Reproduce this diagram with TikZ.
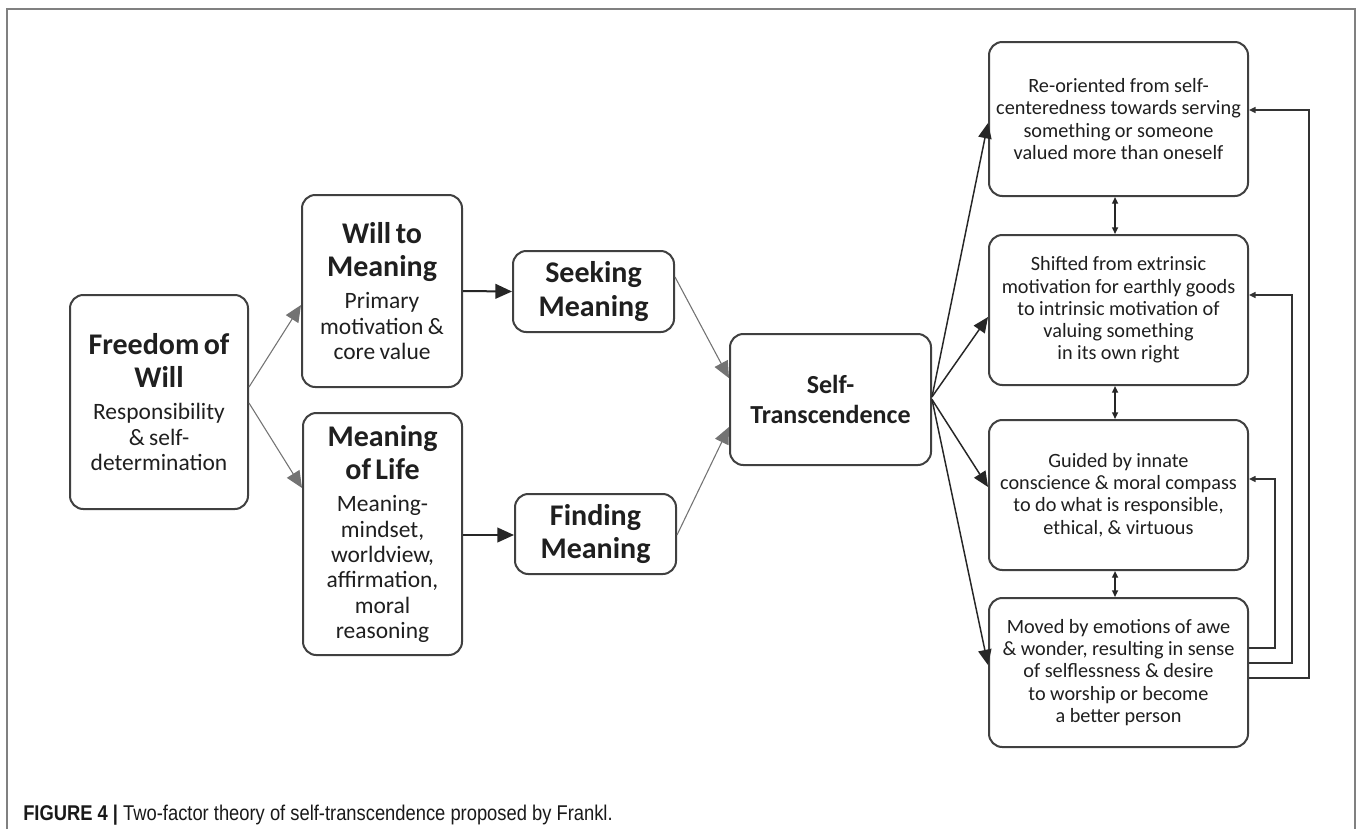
\documentclass[tikz,border=0pt]{standalone}
\usepackage{fontspec}
\setmainfont{Carlito}
\newfontfamily\capfont[FakeStretch=0.86]{Liberation Sans}
\usetikzlibrary{arrows.meta,calc}

% type sizes used inside the boxes
\newcommand\ttl{\fontsize{22.5}{25}\selectfont\bfseries}
\newcommand\bdy{\fontsize{17.6}{19}\selectfont}
\newcommand\smallbdy{\fontsize{15.2}{16.7}\selectfont}
\newcommand\gap{\vspace{5pt}}

\begin{document}
\begin{tikzpicture}[x=0.75pt,y=-0.75pt,
  box/.style={draw=black!75, line width=1.5pt, rounded corners=10pt, fill=white,
    inner sep=2pt, align=center, text=black!88},
  bighead/.style={-{Triangle[length=12.5pt,width=11pt]}},
  thinlink/.style={draw=black!55, line width=0.8pt, bighead},
  boldlink/.style={draw=black!85, line width=1.5pt, bighead},
  fan/.style={draw=black!85, line width=1.1pt, -{Triangle[length=11.5pt,width=10pt]}},
  pair/.style={draw=black!85, line width=1pt,
    {Triangle[length=5pt,width=4.5pt]}-{Triangle[length=5pt,width=4.5pt]}},
  feedback/.style={draw=black!80, line width=1.1pt, -{Triangle[length=5pt,width=4.5pt]}},
  frameline/.style={draw=black!50, line width=1.1pt}
]
\useasboundingbox[fill=white] (0,0) rectangle (1358,829);

% outer frame, open at the bottom
\draw[frameline] (7,829) -- (7,9) -- (1355,9) -- (1355,829);

% left column
\node[box, minimum width=133.5pt, minimum height=160.5pt, text width=129.5pt] (free) at (159,402)
  {{\ttl Freedom of\\Will\par}\gap{\bdy Responsibility\\\& self-\\determination\par}};

\node[box, minimum width=120pt, minimum height=144pt, text width=116pt] (will) at (382,291)
  {{\ttl Will to\\Meaning\par}\gap{\bdy Primary\\motivation \&\\core value\par}};

\node[box, minimum width=119.25pt, minimum height=181.5pt, text width=115pt] (life) at (382.5,534)
  {{\ttl Meaning\\of Life\par}\gap{\bdy Meaning-\\mindset,\\worldview,\\affirmation,\\moral\\reasoning\par}};

\node[box, minimum width=120.75pt, minimum height=60.75pt, text width=116pt] (seek) at (593.5,291.5)
  {{\ttl Seeking\\Meaning\par}};

\node[box, minimum width=120.75pt, minimum height=60pt, text width=116pt] (find) at (595.5,534)
  {{\ttl Finding\\Meaning\par}};

\node[box, minimum width=150.75pt, minimum height=98.25pt, text width=146pt] (self) at (830.5,399.5)
  {{\fontsize{19.5}{22}\selectfont\bfseries Self-\\Transcendence\par}};

% right column
\node[box, minimum width=194.25pt, minimum height=115.5pt, text width=190pt] (r1) at (1118.5,119)
  {{\smallbdy Re-oriented from self-\\centeredness towards serving\\something or someone\\valued more than oneself\par}};
\node[box, minimum width=194.25pt, minimum height=112.5pt, text width=190pt] (r2) at (1118.5,310)
  {{\smallbdy Shifted from extrinsic\\motivation for earthly goods\\to intrinsic motivation of\\valuing something\\in its own right\par}};
\node[box, minimum width=194.25pt, minimum height=112.5pt, text width=190pt] (r3) at (1118.5,495)
  {{\smallbdy Guided by innate\\conscience \& moral compass\\to do what is responsible,\\ethical, \& virtuous\par}};
\node[box, minimum width=194.25pt, minimum height=111.75pt, text width=190pt] (r4) at (1118.5,672.5)
  {{\smallbdy Moved by emotions of awe\\\& wonder, resulting in sense\\of selflessness \& desire\\to worship or become\\a better person\par}};

% connectors on the left
\draw[thinlink] ([yshift=11.25pt]free.east) -- ([yshift=-10.5pt]will.west);
\draw[thinlink] ([yshift=-0.75pt]free.east) -- ([yshift=34.5pt]life.west);
\draw[boldlink] (will.east) -- (seek.west);
\draw[boldlink] ([yshift=-0.75pt]life.east) -- ([yshift=-0.75pt]find.west);
\draw[thinlink] ([yshift=10.9pt]seek.east) -- ([yshift=16pt]self.west);
\draw[thinlink] ([yshift=-0.75pt]find.east) -- ([yshift=-20.6pt]self.west);

% fan out of self-transcendence
\draw[fan] ([yshift=2pt]self.east) -- ([yshift=-3pt]r1.west);
\draw[fan] ([yshift=2pt]self.east) -- ([yshift=-5.25pt]r2.west);
\draw[fan] (self.east) -- ([yshift=6pt]r3.west);
\draw[fan] (self.east) -- ([yshift=5.6pt]r4.west);

% links between neighbouring boxes
\draw[pair] ([xshift=-2.6pt]r1.south) -- ([xshift=-2.6pt]r2.north);
\draw[pair] ([xshift=-2.6pt]r2.south) -- ([xshift=-2.6pt]r3.north);
\draw[pair] ([xshift=-2.6pt]r3.south) -- ([xshift=-2.6pt]r4.north);

% feedback loops from the bottom box
\draw[feedback] ([yshift=18.4pt]r4.east) -- ++(26,0) |- ([yshift=12pt]r3.east);
\draw[feedback] ([yshift=7.1pt]r4.east) -- ++(43,0) |- ([yshift=11.25pt]r2.east);
\draw[feedback] ([yshift=-4.1pt]r4.east) -- ++(60,0) |- ([yshift=6.75pt]r1.east);

% caption
\node[anchor=west, inner sep=0pt, text=black!90] (cap) at (23,815)
  {\capfont\fontsize{16}{18}\selectfont\textbf{FIGURE 4 |} Two-factor theory of self-transcendence proposed by Frankl.};
\end{tikzpicture}
\end{document}
